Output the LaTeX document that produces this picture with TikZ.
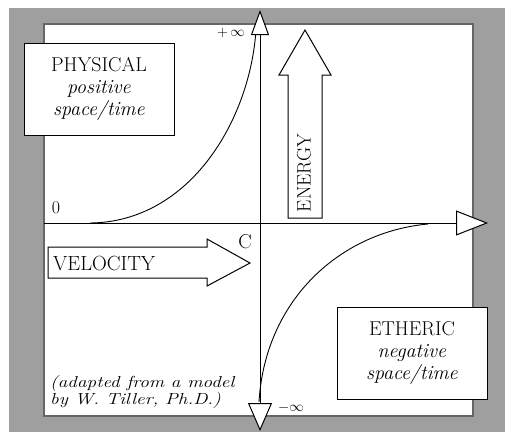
\documentclass[tikz,border=0pt]{standalone}
\usepackage{amsmath,amssymb}
\usepackage{xcolor}
\usepackage{tikz}
\usetikzlibrary{arrows.meta}
\usetikzlibrary{positioning}

\begin{document}
\begin{tikzpicture}[
  x=1pt, y=-1pt,
  every node/.style={inner sep=0pt, font=\fontsize{20}{22}\selectfont},
  infobox/.style={draw, fill=white, line width=1pt, align=center,
    minimum width=150pt, minimum height=92pt},
  blockarrow/.style={draw, fill=white, line width=1pt, line join=miter},
  axis/.style={line width=1pt},
  curve/.style={line width=0.9pt},
  small label/.style={font=\fontsize{14}{15}\selectfont}
]
\useasboundingbox (0,0) rectangle (505,432);
\fill[gray!75] (9,8) rectangle (505,432);
\filldraw[fill=white, draw=black!60, line width=1.2pt] (44,24) rectangle (473,416);

\coordinate (top) at (260,10);
\coordinate (bottom) at (260,431);
\coordinate (left) at (44,223);
\coordinate (right) at (488,223);
\coordinate (origin) at (260,223);

\draw[curve] (90,223) .. controls (190,222) and (250,120) .. (256,30);
\draw[curve] (428,224) .. controls (340,232) and (265,300) .. (259,402);

\draw[axis, {Triangle[fill=white, length=28pt, width=24pt]}-{Triangle[fill=white, length=25pt, width=18pt]}]
  (bottom) -- (top);
\draw[axis, -{Triangle[fill=white, length=32pt, width=25pt]}] (left) -- (right);

\draw[blockarrow] (288,218) -- (288,75) -- (279,75) -- (305,30) -- (331,75)
  -- (322,75) -- (322,218) -- cycle;
\draw[blockarrow] (48,247) -- (207,247) -- (207,239) -- (250,263) -- (207,286)
  -- (207,278) -- (48,278) -- cycle;

\node[infobox] (physical) at (99,89) {PHYSICAL\\\textit{positive}\\\textit{space/time}};
\node[infobox] (etheric) at (412,353) {ETHERIC\\\textit{negative}\\\textit{space/time}};

\node[anchor=west, font=\fontsize{20.5}{22}\selectfont] (velocity) at (53,263) {VELOCITY};
\node[rotate=90, font=\fontsize{19.5}{20}\selectfont] (energy) at (304,173) {ENERGY};
\node[below left=11pt and 8pt of origin] (c) {C};
\node[font=\fontsize{18}{20}\selectfont] (zero) at (56,208) {0};
\node[small label, left=15pt of top, yshift=-23pt] (plusinf) {$+\,\infty$};
\node[small label, right=18pt of bottom, yshift=23pt] (minusinf) {$-\infty$};
\node[anchor=north west, align=left, font=\fontsize{16}{15}\selectfont\itshape]
  (credit) at (50,375) {\scalebox{1.2}[1]{(adapted from a model}\\
  \scalebox{1.2}[1]{by W. Tiller, Ph.D.)}};
\end{tikzpicture}
\end{document}
